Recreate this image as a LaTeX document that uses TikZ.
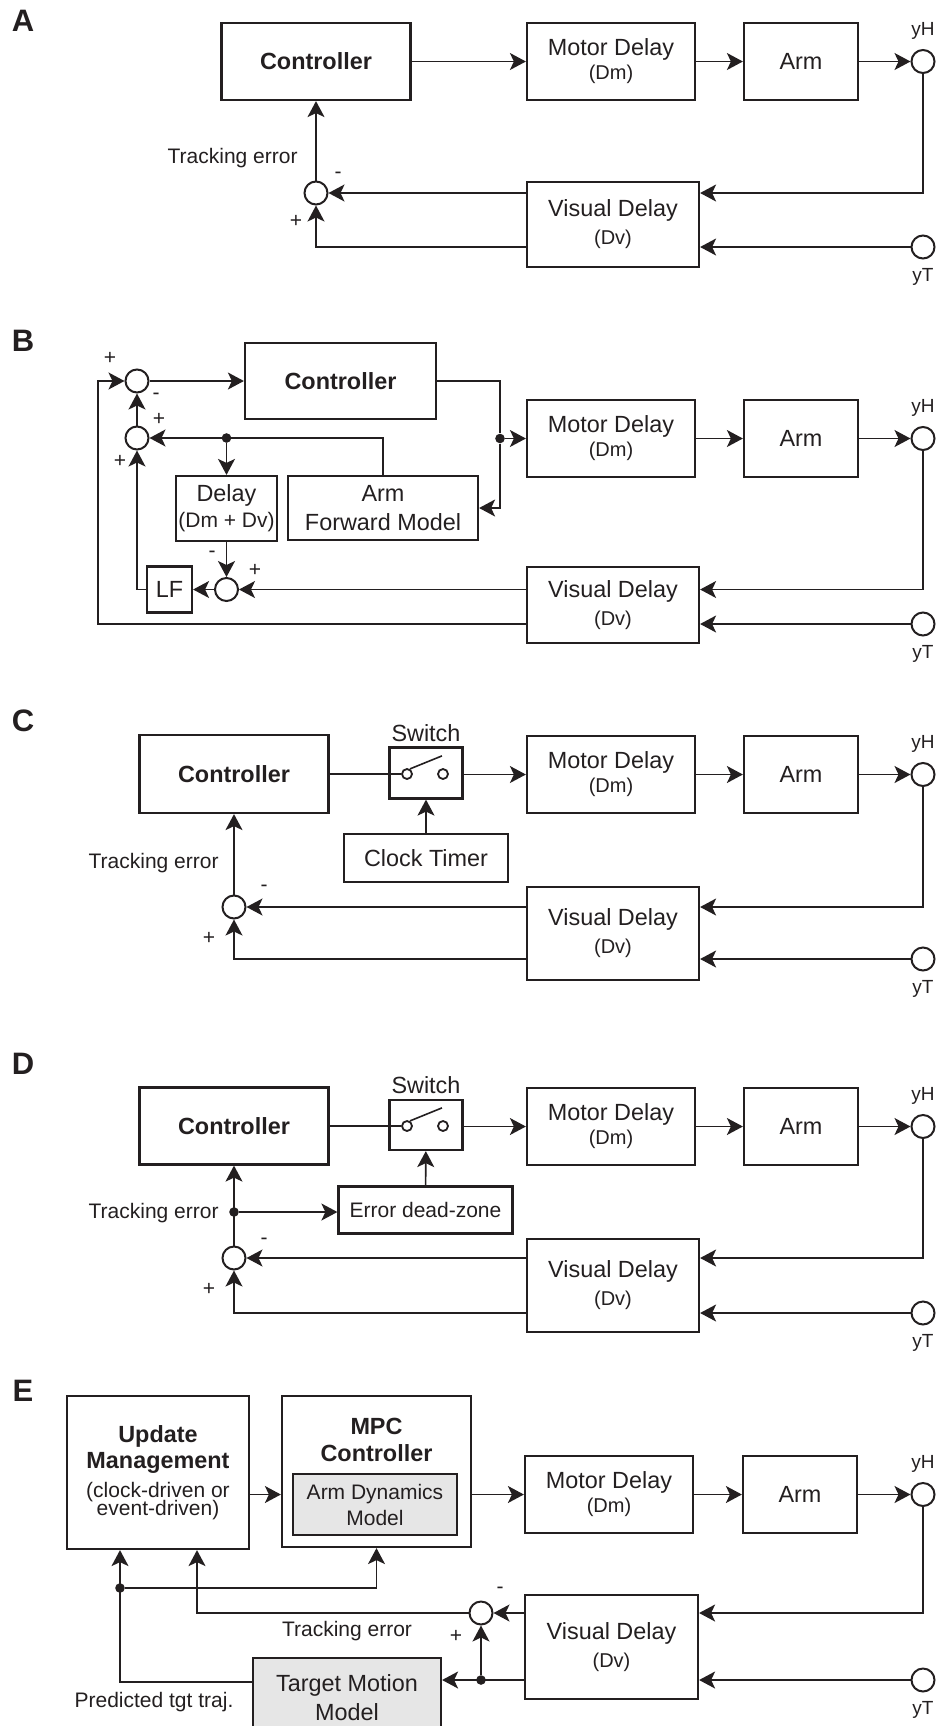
\documentclass[tikz,border=0pt]{standalone}
\usepackage{fontspec}
\setmainfont{Liberation Sans}
\usetikzlibrary{arrows.meta,positioning}
\definecolor{ink}{HTML}{231F20}
\definecolor{shade}{HTML}{E6E6E6}
\newcommand{\mainsize}{\fontsize{11.7}{13}\selectfont}
\newcommand{\subsize}{\fontsize{10}{12}\selectfont}
\newcommand{\lblsize}{\fontsize{10.5}{12}\selectfont}
\tikzset{
  block/.style={rectangle,draw=ink,line width=1.1pt,align=center,font=\mainsize,
    inner sep=0pt,text=ink},
  bblock/.style={block,font=\mainsize\bfseries},
  gblock/.style={block,fill=shade},
  sumnode/.style={circle,draw=ink,line width=1pt,minimum size=11.5pt,inner sep=0pt},
  contact/.style={circle,draw=ink,line width=0.9pt,minimum size=5pt,inner sep=0pt},
  jdot/.style={circle,fill=ink,minimum size=4.8pt,inner sep=0pt},
  lbl/.style={font=\lblsize,text=ink,inner sep=0pt,align=center},
  port/.style={font=\fontsize{9.5}{11}\selectfont,text=ink,inner sep=0pt},
  panel/.style={font=\fontsize{15.5}{17}\selectfont\bfseries,text=ink,inner sep=0pt},
  flow/.style={-{Stealth[length=8pt,width=8.5pt,inset=2pt]},line width=0.8pt,draw=ink},
  wire/.style={line width=0.8pt,draw=ink},
}

\begin{document}
\begin{tikzpicture}[x=0.5pt,y=-0.5pt]
  \clip (0,0) rectangle (943,1726);

  \node[panel] (labA) at (23,21) {A};
  \node[bblock,minimum width=94.5pt,minimum height=38.5pt] (ctrlA) at (316,61.5) {Controller};
  \node[block,minimum width=84pt,minimum height=38.5pt] (motorA) at (611,61.5) {Motor Delay\\[-1pt]{\subsize(Dm)}};
  \node[block,minimum width=57pt,minimum height=38.5pt] (armA) at (801,61.5) {Arm};
  \node[sumnode] (yHA) at (923,61.5) {};
  \node[port,above=4.5pt of yHA] (yHAl) {yH};
  \node[block,minimum width=86pt,minimum height=42.5pt] (visA) at (613,224.5) {Visual Delay\\[1pt]{\subsize(Dv)}};
  \node[sumnode] (sumA) at (316,193) {};
  \node[sumnode] (yTA) at (923,247) {};
  \node[port,below=4.5pt of yTA] (yTAl) {yT};
  \node[lbl,anchor=east] (teA) at (298,158) {Tracking error};
  \node[lbl] (mA) at (338,175) {-};
  \node[lbl] (pA) at (296,221) {+};

  \draw[flow] (ctrlA) -- (motorA);
  \draw[flow] (motorA) -- (armA);
  \draw[flow] (armA) -- (yHA);
  \draw[flow] (yHA) |- (sumA -| visA.east);
  \draw[flow] (yTA) -- (yTA -| visA.east);
  \draw[flow] (sumA -| visA.west) -- (sumA);
  \draw[flow] (yTA -| visA.west) -| (sumA);
  \draw[flow] (sumA) -- (ctrlA);

  \node[panel] (labB) at (23,341) {B};
  \node[sumnode] (sum1B) at (137,381) {};
  \node[sumnode] (sum2B) at (137,438) {};
  \node[bblock,minimum width=95.5pt,minimum height=38pt] (ctrlB) at (340.5,381) {Controller};
  \node[jdot] (splitB) at (226.5,438) {};
  \node[block,minimum width=50.5pt,minimum height=32.5pt] (dlyB) at (226.5,508.5) {Delay\\{\lblsize(Dm + Dv)}};
  \node[block,minimum width=95pt,minimum height=32pt] (fmB) at (383,508) {Arm\\[1.5pt]Forward Model};
  \node[jdot] (forkB) at (500,438.5) {};
  \node[block,minimum width=84pt,minimum height=38.5pt] (motorB) at (611,438.5) {Motor Delay\\[-1pt]{\subsize(Dm)}};
  \node[block,minimum width=57pt,minimum height=38.5pt] (armB) at (801,438.5) {Arm};
  \node[sumnode] (yHB) at (923,438.5) {};
  \node[port,above=4.5pt of yHB] (yHBl) {yH};
  \node[block,minimum width=86pt,minimum height=38pt] (visB) at (613,605) {Visual Delay\\[1pt]{\subsize(Dv)}};
  \node[sumnode] (yTB) at (923,624) {};
  \node[port,below=4.5pt of yTB] (yTBl) {yT};
  \node[sumnode] (sum3B) at (226.5,589.5) {};
  \node[block,minimum width=22.5pt,minimum height=23pt] (lfB) at (169.5,589.5) {LF};
  \coordinate (loopB) at (98,624);
  \node[lbl] (p1B) at (110,358) {+};
  \node[lbl] (m1B) at (156,396) {-};
  \node[lbl] (p2B) at (159,419) {+};
  \node[lbl] (p3B) at (120,461) {+};
  \node[lbl] (m2B) at (212,554) {-};
  \node[lbl] (p4B) at (255,570) {+};

  \draw[flow] (loopB -| visB.west) -- (loopB) |- (sum1B);
  \draw[flow] (sum1B) -- (ctrlB);
  \draw[flow] (sum2B) -- (sum1B);
  \draw[flow] (fmB) |- (sum2B);
  \draw[flow] (splitB) -- (dlyB);
  \draw[wire] (ctrlB) -| (forkB);
  \draw[flow] (forkB) |- (fmB);
  \draw[flow] (forkB) -- (motorB);
  \draw[flow] (motorB) -- (armB);
  \draw[flow] (armB) -- (yHB);
  \draw[flow] (yHB) |- (sum3B -| visB.east);
  \draw[flow] (yTB) -- (yTB -| visB.east);
  \draw[flow] (sum3B -| visB.west) -- (sum3B);
  \draw[flow] (dlyB) -- (sum3B);
  \draw[flow] (sum3B) -- (lfB);
  \draw[flow] (lfB) -| (sum2B);

  \node[panel] (labC) at (23,721) {C};
  \node[bblock,minimum width=94.5pt,minimum height=39pt] (ctrlC) at (234,774) {Controller};
  \node[block,minimum width=36.5pt,minimum height=25.5pt] (swC) at (426,773) {};
  \node[block,draw=none] (swCl) at (426,733) {Switch};
  \node[contact] (swCa) at (407,774) {};
  \node[contact] (swCb) at (443,774) {};
  \draw[wire] (swCa.60) -- ++(32,-13);
  \node[block,minimum width=84pt,minimum height=38.5pt] (motorC) at (611,774.5) {Motor Delay\\[-1pt]{\subsize(Dm)}};
  \node[block,minimum width=57pt,minimum height=38.5pt] (armC) at (801,774.5) {Arm};
  \node[sumnode] (yHC) at (923,774.5) {};
  \node[port,above=4.5pt of yHC] (yHCl) {yH};
  \node[block,minimum width=82pt,minimum height=24pt] (ctC) at (426,858) {Clock Timer};
  \node[block,minimum width=86pt,minimum height=46.5pt] (visC) at (613,933.5) {Visual Delay\\[1pt]{\subsize(Dv)}};
  \node[sumnode] (sumC) at (234,907) {};
  \node[sumnode] (yTC) at (923,959) {};
  \node[port,below=4.5pt of yTC] (yTCl) {yT};
  \node[lbl,anchor=east] (teC) at (219,863) {Tracking error};
  \node[lbl] (mC) at (264,888) {-};
  \node[lbl] (pC) at (209,938) {+};

  \draw[wire] (ctrlC) -- (swCa);
  \draw[flow] (motorC -| swC.east) -- (motorC);
  \draw[flow] (ctC) -- (swC);
  \draw[flow] (motorC) -- (armC);
  \draw[flow] (armC) -- (yHC);
  \draw[flow] (yHC) |- (sumC -| visC.east);
  \draw[flow] (yTC) -- (yTC -| visC.east);
  \draw[flow] (sumC -| visC.west) -- (sumC);
  \draw[flow] (yTC -| visC.west) -| (sumC);
  \draw[flow] (sumC) -- (ctrlC);

  \node[panel] (labD) at (23,1064) {D};
  \node[bblock,minimum width=94.5pt,minimum height=38.5pt] (ctrlD) at (234,1126) {Controller};
  \node[block,minimum width=36.5pt,minimum height=25pt] (swD) at (426,1125) {};
  \node[block,draw=none] (swDl) at (426,1085) {Switch};
  \node[contact] (swDa) at (407,1126) {};
  \node[contact] (swDb) at (443,1126) {};
  \draw[wire] (swDa.60) -- ++(32,-13);
  \node[block,minimum width=84pt,minimum height=38.5pt] (motorD) at (611,1126.5) {Motor Delay\\[-1pt]{\subsize(Dm)}};
  \node[block,minimum width=57pt,minimum height=38.5pt] (armD) at (801,1126.5) {Arm};
  \node[sumnode] (yHD) at (923,1126.5) {};
  \node[port,above=4.5pt of yHD] (yHDl) {yH};
  \node[block,font=\lblsize,minimum width=87pt,minimum height=23.5pt] (dzD) at (425.5,1210) {Error dead-zone};
  \node[jdot] (splitD) at (234,1212) {};
  \node[block,minimum width=86pt,minimum height=46.5pt] (visD) at (613,1285.5) {Visual Delay\\[1pt]{\subsize(Dv)}};
  \node[sumnode] (sumD) at (234,1258) {};
  \node[sumnode] (yTD) at (923,1313) {};
  \node[port,below=4.5pt of yTD] (yTDl) {yT};
  \node[lbl,anchor=east] (teD) at (219,1213) {Tracking error};
  \node[lbl] (mD) at (264,1241) {-};
  \node[lbl] (pD) at (209,1289) {+};

  \draw[wire] (ctrlD) -- (swDa);
  \draw[flow] (motorD -| swD.east) -- (motorD);
  \draw[flow] (dzD) -- (swD);
  \draw[flow] (splitD) -- (splitD -| dzD.west);
  \draw[flow] (motorD) -- (armD);
  \draw[flow] (armD) -- (yHD);
  \draw[flow] (yHD) |- (sumD -| visD.east);
  \draw[flow] (yTD) -- (yTD -| visD.east);
  \draw[flow] (sumD -| visD.west) -- (sumD);
  \draw[flow] (yTD -| visD.west) -| (sumD);
  \draw[flow] (sumD) -- (ctrlD);

  \node[panel] (labE) at (23,1391) {E};
  \node[bblock,minimum width=91pt,minimum height=76.5pt] (umE) at (158,1472.5)
    {Update\\Management\\[1.5pt]{\lblsize\mdseries(clock-driven or}\\[-4pt]{\lblsize\mdseries event-driven)}};
  \node[block,minimum width=94.5pt,minimum height=75.5pt] (mpcE) at (376.5,1471.5) {};
  \node[bblock,draw=none] (mpcEl) at (376.5,1439.5) {MPC\\[0.5pt]Controller};
  \node[gblock,font=\lblsize,minimum width=82pt,minimum height=30.5pt] (admE) at (375,1504.5) {Arm Dynamics\\[1pt]Model};
  \node[block,minimum width=84pt,minimum height=38.5pt] (motorE) at (609,1494.5) {Motor Delay\\[-1pt]{\subsize(Dm)}};
  \node[block,minimum width=57pt,minimum height=38.5pt] (armE) at (800,1494.5) {Arm};
  \node[sumnode] (yHE) at (923,1494.5) {};
  \node[port,above=4.5pt of yHE] (yHEl) {yH};
  \node[block,minimum width=86.5pt,minimum height=52pt] (visE) at (611.5,1647) {Visual Delay\\[1pt]{\subsize(Dv)}};
  \node[sumnode] (sumE) at (481,1613) {};
  \node[sumnode] (yTE) at (923,1680) {};
  \node[port,below=4.5pt of yTE] (yTEl) {yT};
  \node[jdot] (forkE) at (481,1680) {};
  \node[gblock,minimum width=94pt,minimum height=39.5pt] (tmmE) at (347,1697.5) {Target Motion\\[1.5pt]Model};
  \node[jdot] (splitE) at (120,1588) {};
  \node[lbl] (teE) at (347,1631) {Tracking error};
  \node[lbl] (ptE) at (154,1702) {Predicted tgt traj.};
  \node[lbl] (mE) at (500,1590) {-};
  \node[lbl] (pE) at (456,1636) {+};

  \draw[flow] (motorE -| umE.east) -- (motorE -| mpcE.west);
  \draw[flow] (motorE -| mpcE.east) -- (motorE);
  \draw[flow] (motorE) -- (armE);
  \draw[flow] (armE) -- (yHE);
  \draw[flow] (yHE) |- (sumE -| visE.east);
  \draw[flow] (yTE) -- (yTE -| visE.east);
  \draw[flow] (sumE -| visE.west) -- (sumE);
  \draw[flow] (yTE -| visE.west) -- (yTE -| tmmE.east);
  \draw[flow] (forkE) -- (sumE);
  \draw[flow] (sumE) -| ([xshift=19.5pt]umE.south);
  \draw[flow] ([yshift=-12.5pt]tmmE.north west) -| ([xshift=-19pt]umE.south);
  \draw[flow] (splitE) -| (mpcE.south);
\end{tikzpicture}
\end{document}
